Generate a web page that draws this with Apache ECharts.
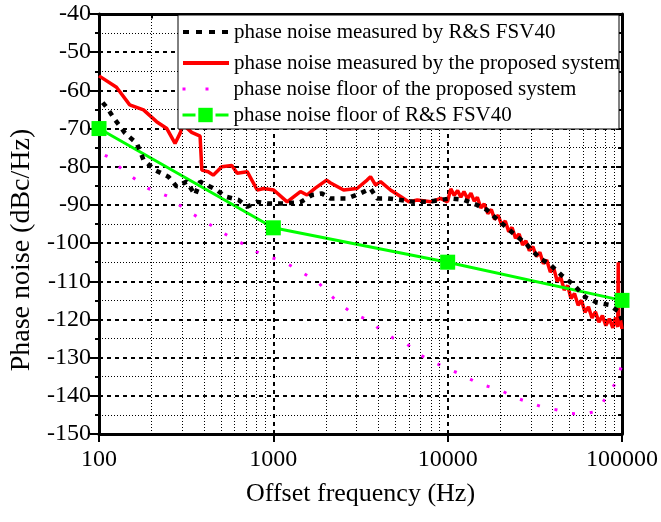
<!DOCTYPE html>
<html><head><meta charset="utf-8">
<script src="https://cdn.jsdelivr.net/npm/echarts@6/dist/echarts.min.js"></script>
<style>html,body{margin:0;padding:0;background:#fff}#c{width:661px;height:522px}</style>
</head><body><div id="c"></div>
<script>
const FONT = "'Liberation Serif','Times New Roman',serif";
const seriesNames = [
  'phase noise measured by R&S FSV40',
  'phase noise measured by the proposed system',
  'phase noise floor of the proposed system',
  'phase noise floor of R&S FSV40'
];
const xTickLabels = ['100', '1000', '10000', '100000'];
const xAxisTitle = 'Offset frequency (Hz)';
const yAxisTitle = 'Phase noise (dBc/Hz)';

// R&S FSV40 measured (black dotted)
const blackX = [105,110,124,141,165,180,210,250,279,318,356,380,415,474,530,632,708,808,922,1140,1430,1670,1900,2120,2660,3150,3610,3940,4500,5370,6400,7650,9120,10420,12400,14700,16800,18900,21500,24400,27900,31100,34300,38500,45000,53000,61800,72200,84400,96000,100000];
const blackY = [-63.2,-64.3,-67.8,-71.2,-73.9,-78.2,-80.9,-82.6,-85.2,-83.9,-87.4,-83.9,-84.8,-86.1,-87.8,-88.7,-90.5,-89.2,-89.6,-89.6,-89.3,-87.4,-87,-88.3,-88.3,-87,-85.7,-88.3,-88.3,-88.7,-89.2,-89.2,-88.7,-88.3,-88.7,-90,-91.3,-93.5,-95.7,-97.9,-100,-102.3,-104.2,-105.5,-108.4,-111,-114.2,-115.6,-116.2,-118,-120.1];

// proposed system measured (red)
const redX = [100,126,150,180,214,245,273,292,304,340,380,389,423,452,506,578,620,708,808,882,1005,1200,1430,1560,1740,2020,2120,2530,3020,3450,3610,3860,4120,4700,5370,5990,6690,8000,9120,9970,
  10420,10900,11400,11900,12400,13000,13600,14200,14800,15500,16200,17000,17800,18600,19500,20400,21400,22400,23400,24500,25700,26900,28100,29400,30800,32300,33800,35400,37000,38800,40600,42500,44500,46600,48800,51000,53400,56000,58600,61300,64200,67300,70400,73700,77200,80800,84600,88600,92000,94500,95200,95800,98000,100000];
const redY = [-56.2,-59.2,-63.8,-65.1,-68.2,-70,-73.9,-71.2,-69,-71,-72,-80.9,-81.3,-82.2,-80,-79.7,-81.7,-81.3,-86.1,-85.7,-86.1,-89.2,-86.5,-87.4,-85.6,-83.5,-84.2,-86.1,-85.7,-83.5,-82.6,-84.8,-83.9,-86.1,-87.8,-89.2,-88.7,-89.2,-88.3,-89.2,
  -85.8,-87.5,-86.2,-88,-86.5,-88.4,-86.9,-89,-88,-90.8,-89.7,-92.3,-91.2,-93.8,-92.7,-95.3,-94.2,-97,-95.9,-98.7,-97.6,-100.5,-99.4,-102,-100.9,-103.5,-102.4,-105.4,-104.4,-107.6,-106.6,-110,-108.9,-112.3,-111.1,-114.5,-113.2,-116.3,-115,-118.1,-116.7,-119.6,-118,-120.7,-119,-121.6,-119.8,-122.2,-119.5,-122,-105,-121.5,-120,-122.5];

// noise floor of proposed system (magenta dotted)
const magX = [108,113,144,192,250,315,407,541,708,860,1120,1440,1790,2010,2330,2840,3480,4170,4880,5830,6960,8250,9880,11550,15250,18400,20500,23500,28400,34300,42500,50700,60500,69000,77100,84400,92000,99000];
const magY = [-77,-77.4,-81.7,-85.7,-87.8,-91.3,-94.4,-97.9,-100.8,-103.1,-104.6,-107.5,-110.1,-112.5,-115.4,-118.4,-120.1,-122.9,-124.9,-126.4,-129.3,-131.1,-132.8,-134.1,-136.9,-138,-138.7,-140.2,-141.5,-142.8,-143.7,-144.6,-144.8,-144.2,-142,-138.9,-136.7,-132.4];

// noise floor of R&S FSV40 (green, square markers)
const greenX = [100, 1000, 10000, 100000];
const greenY = [-70, -96, -105, -115];

// minor log grid positions
const minorX = [];
[100, 1000, 10000].forEach(d => { for (let k = 2; k <= 9; k++) minorX.push(d * k); });

const zip = (xs, ys) => xs.map((x, i) => [x, ys[i]]);

const minorLines = [];
minorX.forEach(v => {
  minorLines.push({ xAxis: v });
  minorLines.push([{ coord: [v, -150], lineStyle: { type: 'solid', width: 2, color: '#000' } }, { coord: [v, -151.3] }]);
  minorLines.push([{ coord: [v, -40], lineStyle: { type: 'solid', width: 2, color: '#000' } }, { coord: [v, -41.2] }]);
});

const rowCenters = [32, 63, 89, 115];
const legendLine = [
  { type: [6, 7], width: 4 },
  { type: 'solid', width: 4 },
  { type: [3, 20], width: 3 },
  { type: [13, 20], width: 3 }
];
const legends = seriesNames.map((n, i) => ({
  data: [n], left: 181, top: rowCenters[i] - 12, padding: 0, itemGap: 0,
  itemWidth: 46, itemHeight: i === 3 ? 18 : 14, selectedMode: false, z: 10,
  lineStyle: legendLine[i],
  itemStyle: i === 3 ? {} : { opacity: 0 },
  textStyle: { fontFamily: FONT, fontSize: 21, color: '#000', lineHeight: 24 }
}));

const axisBase = { min: 100, max: 100000, logBase: 10 };
const option = {
  animation: false,
  backgroundColor: '#fff',
  grid: { left: 99, right: 39, top: 14, bottom: 88, containLabel: false },
  legend: legends,
  graphic: [{ type: 'rect', shape: { x: 178, y: 15, width: 441, height: 114 }, style: { fill: '#fff', stroke: '#000', lineWidth: 1 }, z: 8 }],
  xAxis: [
    Object.assign({ type: 'log', position: 'bottom',
      name: xAxisTitle, nameLocation: 'middle', nameGap: 47,
      nameTextStyle: { fontFamily: FONT, fontSize: 26, color: '#000' },
      axisLine: { show: true, lineStyle: { color: '#000', width: 3 } },
      axisTick: { show: true, inside: false, length: 8, lineStyle: { width: 2, color: '#000' } },
      axisLabel: { fontFamily: FONT, fontSize: 24, color: '#000', margin: 14,
        formatter: v => xTickLabels[Math.round(Math.log10(v)) - 2] },
      splitLine: { show: true, lineStyle: { color: '#000', type: [4, 4], width: 2 } }
    }, axisBase),
    Object.assign({ type: 'log', position: 'top',
      axisLine: { show: true, lineStyle: { color: '#000', width: 3 } },
      axisTick: { show: true, inside: true, length: 6, lineStyle: { width: 2, color: '#000' } },
      axisLabel: { show: false }, splitLine: { show: false }
    }, axisBase)
  ],
  yAxis: [
    { type: 'value', min: -150, max: -40, interval: 10, position: 'left',
      name: yAxisTitle, nameLocation: 'middle', nameGap: 62,
      nameTextStyle: { fontFamily: FONT, fontSize: 28, color: '#000', padding: [0, 52, 0, 0] },
      axisLine: { show: true, lineStyle: { color: '#000', width: 3 } },
      axisTick: { show: true, inside: false, length: 9, lineStyle: { width: 2, color: '#000' } },
      minorTick: { show: true, splitNumber: 2, length: 4, lineStyle: { width: 2, color: '#000' } },
      axisLabel: { fontFamily: FONT, fontSize: 24, color: '#000', margin: 8 },
      splitLine: { show: true, lineStyle: { color: '#000', type: [4, 4], width: 2 } },
      minorSplitLine: { show: true, lineStyle: { color: '#000', type: [1, 2], width: 1 } }
    },
    { type: 'value', min: -150, max: -40, interval: 10, position: 'right',
      axisLine: { show: true, lineStyle: { color: '#000', width: 3 } },
      axisTick: { show: true, inside: true, length: 6, lineStyle: { width: 2, color: '#000' } },
      minorTick: { show: true, splitNumber: 2, length: 4, lineStyle: { width: 2, color: '#000' } },
      axisLabel: { show: false }, splitLine: { show: false }
    }
  ],
  series: [
    { name: seriesNames[0], type: 'line', data: zip(blackX, blackY), symbol: 'none', z: 5,
      lineStyle: { color: '#000', width: 4.5, type: [5, 6] }, itemStyle: { color: '#000' } },
    { name: seriesNames[1], type: 'line', data: zip(redX, redY), symbol: 'none', z: 2,
      lineStyle: { color: '#ff0000', width: 3.5 }, itemStyle: { color: '#ff0000' } },
    { name: seriesNames[2], type: 'line', data: zip(magX, magY), symbol: 'none', z: 2,
      lineStyle: { color: '#ff00ff', width: 3, type: [3, 15] }, itemStyle: { color: '#ff00ff' },
      markLine: { silent: true, symbol: ['none', 'none'], label: { show: false }, animation: false,
        lineStyle: { color: '#000', type: [1, 2], width: 1 }, emphasis: { disabled: true }, data: minorLines } },
    { name: seriesNames[3], type: 'line', data: zip(greenX, greenY), symbol: 'rect', symbolSize: 15, z: 4,
      lineStyle: { color: '#00ff00', width: 3 }, itemStyle: { color: '#00ff00' } }
  ]
};
const chart = echarts.init(document.getElementById('c'));
chart.setOption(option);
</script></body></html>
